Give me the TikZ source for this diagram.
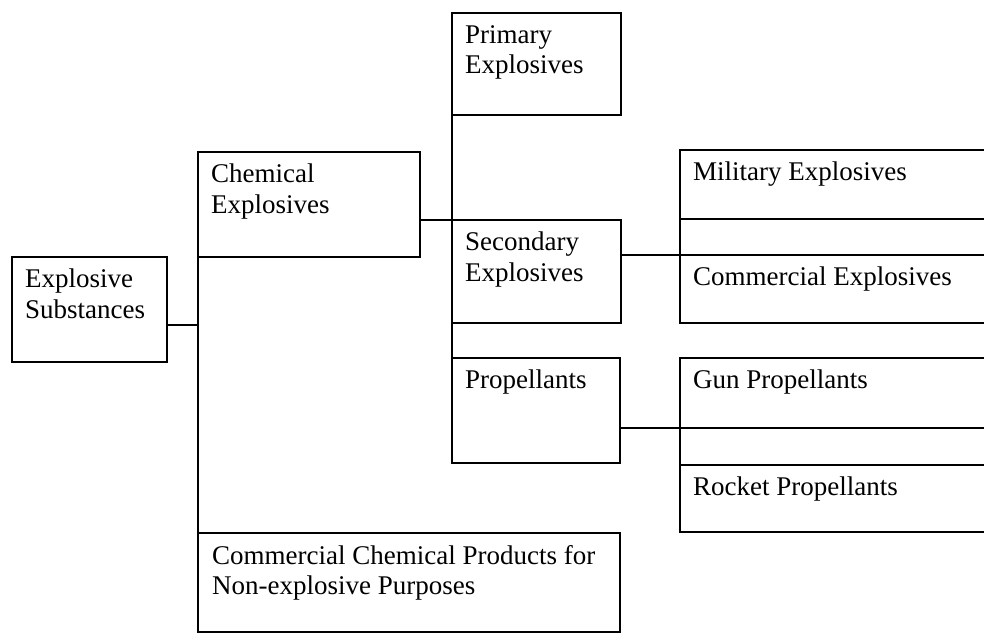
\documentclass[tikz,border=0pt]{standalone}
\usepackage{fontspec}
\setmainfont{Liberation Serif}
\tikzset{
  box/.style={draw, line width=2.7pt, rectangle, anchor=north west, inner sep=0pt, outer sep=0pt},
  lbl/.style={anchor=north west, inner sep=0pt, align=left, font=\fontsize{27}{30.5}\selectfont},
  conn/.style={line width=2.7pt, line cap=rect}
}
\begin{document}
\begin{tikzpicture}[x=1pt,y=-1pt]
\useasboundingbox (0,0) rectangle (984,634);
\clip (0,0) rectangle (984,634);
% boxes
\node[box, minimum width=155pt, minimum height=105pt] (es) at (12,257) {};
\node[box, minimum width=222pt, minimum height=105pt] (chem) at (198,152) {};
\node[box, minimum width=422pt, minimum height=99pt] (cc) at (198,533) {};
\node[box, minimum width=169pt, minimum height=102pt] (prim) at (452,13) {};
\node[box, minimum width=169pt, minimum height=103pt] (sec) at (452,220) {};
\node[box, minimum width=168pt, minimum height=105pt] (prop) at (452,358) {};
\node[box, minimum width=330pt, minimum height=69pt] (mil) at (680,150) {};
\node[box, minimum width=330pt, minimum height=68pt] (ce) at (680,255) {};
\node[box, minimum width=330pt, minimum height=70pt] (gun) at (680,358) {};
\node[box, minimum width=330pt, minimum height=67pt] (rock) at (680,465) {};
% texts
\node[lbl] (tes) at ([xshift=13pt,yshift=-12pt]es.north west) {Explosive\\Substances};
\node[lbl] (tchem) at ([xshift=13pt,yshift=-12pt]chem.north west) {Chemical\\Explosives};
\node[lbl] (tcc) at ([xshift=14pt,yshift=-12pt]cc.north west) {Commercial Chemical Products for\\Non-explosive Purposes};
\node[lbl] (tprim) at ([xshift=13pt,yshift=-12pt]prim.north west) {Primary\\Explosives};
\node[lbl] (tsec) at ([xshift=13pt,yshift=-12pt]sec.north west) {Secondary\\Explosives};
\node[lbl] (tprop) at ([xshift=13pt,yshift=-12pt]prop.north west) {Propellants};
\node[lbl] (tmil) at ([xshift=13pt,yshift=-12pt]mil.north west) {Military Explosives};
\node[lbl] (tce) at ([xshift=13pt,yshift=-12pt]ce.north west) {Commercial Explosives};
\node[lbl] (tgun) at ([xshift=13pt,yshift=-12pt]gun.north west) {Gun Propellants};
\node[lbl] (trock) at ([xshift=13pt,yshift=-12pt]rock.north west) {Rocket Propellants};
% connectors
\coordinate (esout) at ([yshift=37pt]es.south east);
\draw[conn] (esout) -- (esout -| chem.west);
\draw[conn] (chem.south west) -- (cc.north west);
\draw[conn] (chem.east |- sec.north west) -- (sec.north west);
\draw[conn] (prim.south west) -- (sec.north west);
\draw[conn] (sec.south west) -- (prop.north west);
\draw[conn] (sec.east |- ce.north west) -- (ce.north west);
\draw[conn] (mil.south west) -- (ce.north west);
\draw[conn] (prop.east |- gun.south west) -- (gun.south west);
\draw[conn] (gun.south west) -- (rock.north west);
\end{tikzpicture}
\end{document}
